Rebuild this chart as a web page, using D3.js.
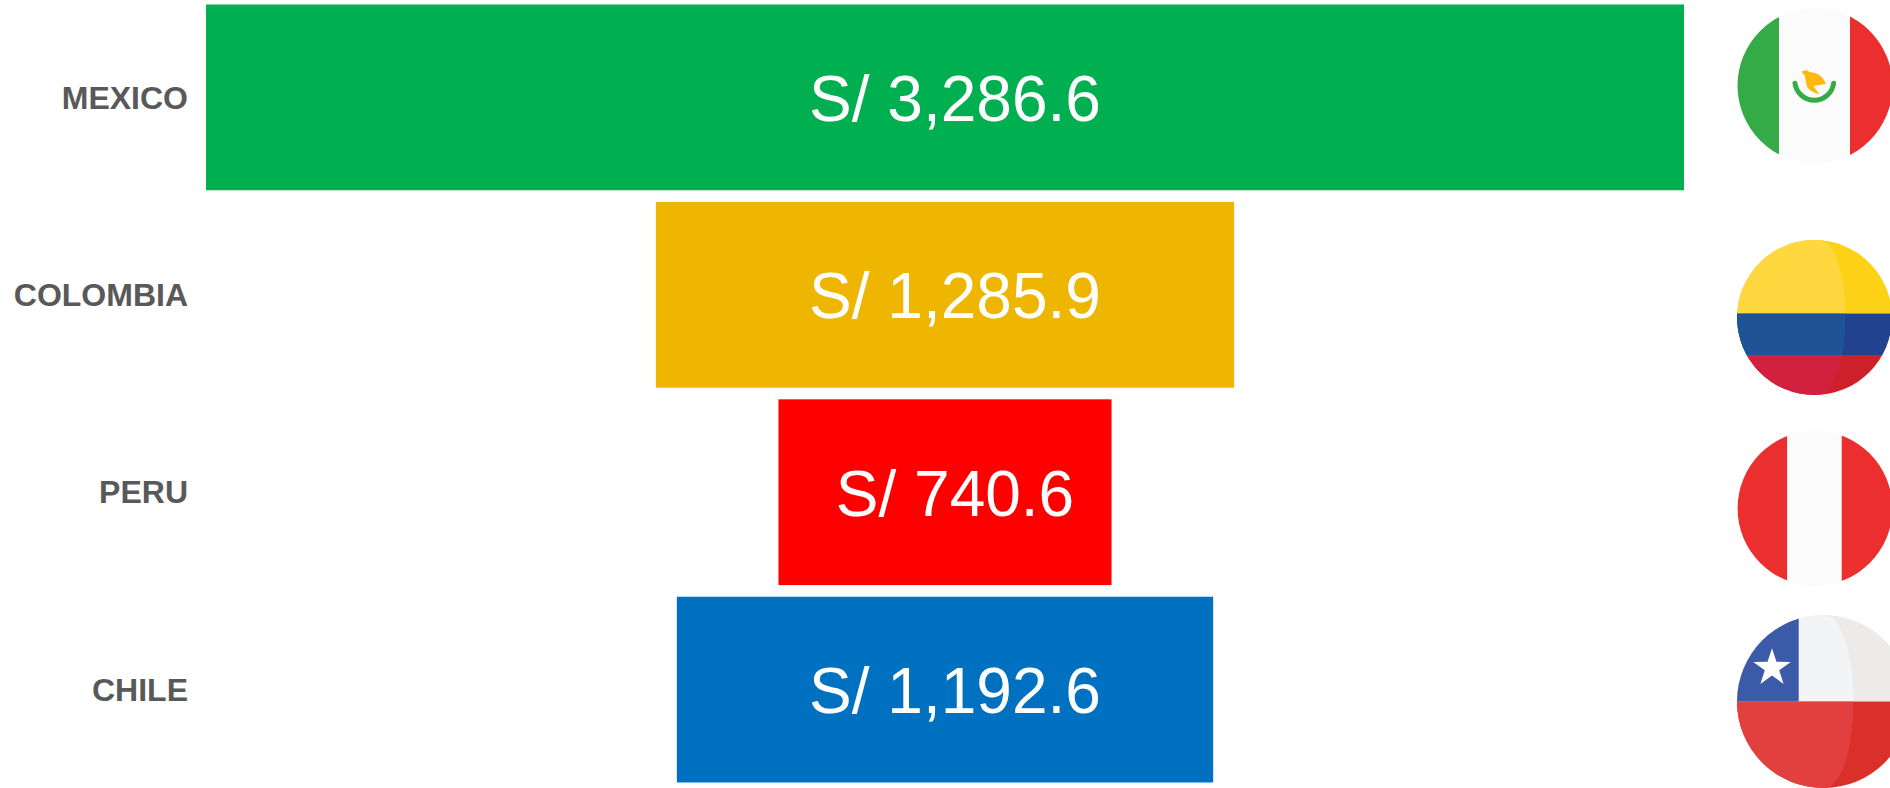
<!DOCTYPE html>
<html lang="es">
<head>
    <meta charset="UTF-8">
    <title>Funnel por pais</title>
    <script src="https://d3js.org/d3.v7.min.js"></script>
    <style>
        body { margin: 0; background: #fff; overflow: hidden; }
        svg { display: block; font-family: "Liberation Sans", Arial, sans-serif; }
        .cat text { font-size: 32px; font-weight: bold; fill: #595959; }
        .cat .domain { display: none; }
        .value { font-size: 64px; fill: #fff; text-anchor: middle; }
    </style>
</head>
<body>
    <div id="chart"></div>
    <script>
        const countries = ["MEXICO", "COLOMBIA", "PERU", "CHILE"];
        const amounts = [3286.6, 1285.9, 740.6, 1192.6];
        const barColors = ["#00B050", "#EEB600", "#FF0000", "#0070C0"];

        const width = 1890;
        const height = 788;
        const maxAmount = d3.max(amounts);

        const svg = d3.select("#chart").append("svg")
            .attr("width", width)
            .attr("height", height);

        // bars are centred on zero, so the scale runs from -max/2 to max/2
        const x = d3.scaleLinear()
            .domain([-maxAmount / 2, maxAmount / 2])
            .range([206, 1684]);

        const y = d3.scaleBand()
            .domain(countries)
            .range([4.5, 782.5])
            .paddingInner(0.059);

        const money = d3.format(",.1f");
        const rows = countries.map((c, i) => ({ country: c, amount: amounts[i], color: barColors[i] }));

        svg.selectAll(".bar")
            .data(rows)
            .join("rect")
            .attr("class", "bar")
            .attr("x", d => x(-d.amount / 2))
            .attr("y", d => y(d.country))
            .attr("width", d => x(d.amount / 2) - x(-d.amount / 2))
            .attr("height", y.bandwidth())
            .attr("fill", d => d.color);

        svg.selectAll(".value")
            .data(rows)
            .join("text")
            .attr("class", "value")
            .attr("x", x(0) + 10)
            .attr("y", d => y(d.country) + y.bandwidth() / 2)
            .attr("dy", "0.365em")
            .text(d => "S/ " + money(d.amount));

        svg.append("g")
            .attr("class", "cat")
            .attr("transform", "translate(188,1)")
            .call(d3.axisLeft(y).tickSize(0).tickPadding(0));

        // round flags, drawn in a box local to each circle
        const defs = svg.append("defs");

        function flag(id, cx, cy, r) {
            defs.append("clipPath").attr("id", id)
                .append("circle").attr("r", r);
            return svg.append("g")
                .attr("transform", `translate(${cx},${cy})`)
                .append("g")
                .attr("clip-path", `url(#${id})`);
        }

        function band(g, x0, y0, w, h, fill) {
            g.append("rect").attr("x", x0).attr("y", y0).attr("width", w).attr("height", h).attr("fill", fill);
        }

        // Mexico
        const mx = flag("clip-mx", 1815, 85.7, 77.5);
        band(mx, -78, -78, 42, 156, "#34AB47");
        band(mx, -36, -78, 71, 156, "#FBFBFB");
        band(mx, 35, -78, 43, 156, "#EB2E2E");
        mx.append("path")
            .attr("d", d3.arc().innerRadius(17).outerRadius(22).startAngle(-Math.PI / 2).endAngle(Math.PI / 2).cornerRadius(2.5)())
            .attr("transform", "translate(-0.7,-5) rotate(180)")
            .attr("fill", "#34AB47");
        mx.append("path")
            .attr("d", "M-13.3,-14 L-9,-15.7 L-5,-13.5 C2,-13.5 9,-9 10.7,-1.7 L-1.7,0.3 L4.3,8.3 C-3,7 -8,3 -8.5,-1 C-9.5,-5 -9.5,-8 -10.7,-10.7 Z")
            .attr("fill", "#FFB80F");

        // Colombia
        const co = flag("clip-co", 1814.5, 317.5, 77.5);
        band(co, -78, -78, 156, 74, "#FDD116");
        band(co, -78, -4, 156, 41.5, "#22418E");
        band(co, -78, 37.5, 156, 41, "#CD2029");
        const coLit = co.append("g").attr("clip-path", "url(#lit-co)");
        defs.append("clipPath").attr("id", "lit-co").append("path")
            .attr("d", "M5,-77.5 A26,77.5 0 0 1 5,77.5 L-78,77.5 L-78,-77.5 Z");
        band(coLit, -78, -78, 156, 74, "#FFD83F");
        band(coLit, -78, -4, 156, 41.5, "#1E5396");
        band(coLit, -78, 37.5, 156, 41, "#D2213F");

        // Peru
        const pe = flag("clip-pe", 1815, 508.3, 77.4);
        band(pe, -78, -78, 50.3, 156, "#EB2E2E");
        band(pe, -27.7, -78, 54.4, 156, "#FBFBFB");
        band(pe, 26.7, -78, 52, 156, "#EB2E2E");

        // Chile
        const cl = flag("clip-cl", 1823.5, 701.5, 86.5);
        band(cl, -87, -87, 174, 87, "#ECEBE9");
        band(cl, -87, 0, 174, 87, "#DB2F2A");
        const clLit = cl.append("g").attr("clip-path", "url(#lit-cl)");
        defs.append("clipPath").attr("id", "lit-cl").append("path")
            .attr("d", "M1,-86.5 A29,86.5 0 0 1 1,86.5 L-87,86.5 L-87,-86.5 Z");
        band(clLit, -87, -87, 174, 87, "#F2F4F6");
        band(clLit, -87, 0, 174, 87, "#E23F3F");
        band(cl, -87, -87, 62.2, 87, "#3B5AA8");
        cl.append("path")
            .attr("d", d3.range(10).map(i => {
                const a = i * Math.PI / 5;
                const r = i % 2 ? 7.6 : 19.7;
                return (i ? "L" : "M") + (r * Math.sin(a)) + "," + (-r * Math.cos(a));
            }).join("") + "Z")
            .attr("transform", "translate(-51.5,-33.5)")
            .attr("fill", "#fff");
    </script>
</body>
</html>
